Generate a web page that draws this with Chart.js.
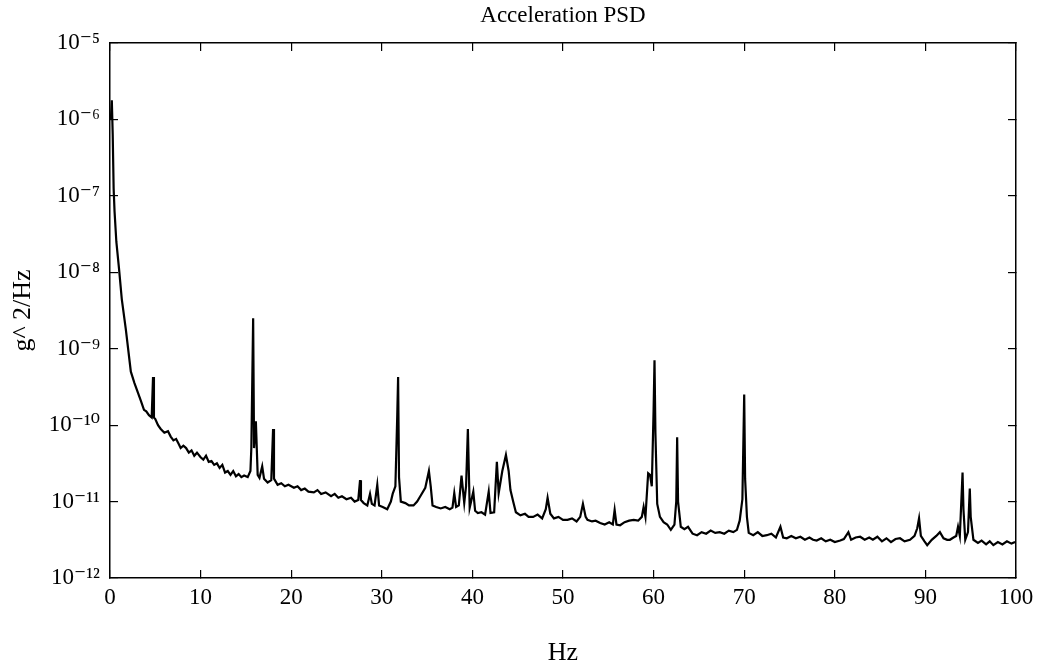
<!DOCTYPE html>
<html>
<head>
<meta charset="utf-8">
<script src="https://cdn.jsdelivr.net/npm/chart.js@4/dist/chart.umd.min.js"></script>
<style>
  html, body { margin: 0; padding: 0; background: #fff; }
  canvas { display: block; }
</style>
</head>
<body>
<canvas id="psd" width="1041" height="669"></canvas>
<script>
// Frequency axis (Hz) and PSD values as log10(g^2/Hz)
const freqHz = [
  0.1, 0.2, 0.3, 0.4, 0.5, 0.7, 1.0, 1.3, 1.75, 2.3,
  2.7, 3.1, 3.4, 3.75, 4.0, 4.3, 4.6, 4.75, 4.85, 5.0,
  5.3, 5.6, 6.0, 6.4, 6.7, 7.0, 7.3, 7.6, 7.8, 8.1,
  8.4, 8.7, 9.0, 9.3, 9.6, 10.0, 10.3, 10.6, 10.9, 11.2,
  11.5, 11.8, 12.1, 12.4, 12.7, 13.0, 13.3, 13.6, 13.9, 14.2,
  14.5, 14.8, 15.2, 15.5, 15.6, 15.8, 15.9, 16.1, 16.2, 16.3,
  16.5, 16.8, 17.0, 17.4, 17.8, 18.0, 18.1, 18.5, 18.9, 19.3,
  19.7, 20.3, 20.7, 21.1, 21.5, 21.9, 22.5, 22.9, 23.3, 23.8,
  24.4, 24.8, 25.2, 25.6, 26.1, 26.6, 27.0, 27.4, 27.6, 27.7,
  28.0, 28.4, 28.7, 28.9, 29.2, 29.5, 29.7, 30.1, 30.6, 31.0,
  31.2, 31.5, 31.7, 31.8, 31.9, 32.1, 32.6, 33.0, 33.5, 33.9,
  34.3, 34.8, 35.2, 35.4, 35.6, 36.0, 36.5, 37.0, 37.5, 37.8,
  38.0, 38.2, 38.5, 38.8, 39.1, 39.3, 39.5, 39.7, 40.1, 40.3,
  40.6, 41.0, 41.4, 41.8, 42.0, 42.4, 42.7, 42.9, 43.3, 43.7,
  44.0, 44.2, 44.5, 44.8, 45.3, 45.8, 46.2, 46.7, 47.2, 47.7,
  48.1, 48.3, 48.6, 49.0, 49.5, 50.0, 50.5, 51.0, 51.5, 51.9,
  52.2, 52.5, 52.7, 53.2, 53.6, 54.1, 54.6, 55.1, 55.5, 55.7,
  55.9, 56.3, 56.8, 57.3, 57.8, 58.3, 58.7, 58.9, 59.1, 59.4,
  59.6, 59.8, 60.0, 60.1, 60.2, 60.4, 60.7, 61.1, 61.5, 61.9,
  62.3, 62.5, 62.6, 62.7, 63.0, 63.4, 63.8, 64.3, 64.8, 65.3,
  65.8, 66.3, 66.8, 67.3, 67.8, 68.3, 68.8, 69.2, 69.5, 69.8,
  70.0, 70.1, 70.3, 70.5, 71.0, 71.5, 72.0, 72.5, 73.0, 73.5,
  74.0, 74.3, 74.7, 75.2, 75.7, 76.2, 76.7, 77.2, 77.6, 78.0,
  78.5, 79.0, 79.5, 80.0, 80.6, 81.0, 81.5, 81.8, 82.3, 82.8,
  83.3, 83.8, 84.2, 84.7, 85.2, 85.7, 86.2, 86.7, 87.2, 87.7,
  88.3, 88.8, 89.1, 89.3, 89.5, 89.9, 90.2, 90.7, 91.2, 91.6,
  92.0, 92.4, 92.7, 93.1, 93.4, 93.6, 93.8, 94.0, 94.1, 94.2,
  94.4, 94.7, 94.9, 95.0, 95.3, 95.8, 96.2, 96.7, 97.1, 97.5,
  98.0, 98.5, 99.0, 99.5, 99.9
];
const psdLog10 = [
  -6.0, -5.75, -6.2, -6.9, -7.2, -7.6, -7.96, -8.35, -8.75, -9.3,
  -9.45, -9.58, -9.68, -9.8, -9.82, -9.87, -9.9, -9.37, -9.9, -9.92,
  -10.0, -10.05, -10.1, -10.08, -10.15, -10.2, -10.18, -10.25, -10.3, -10.27,
  -10.3, -10.36, -10.33, -10.4, -10.36, -10.42, -10.45, -10.4, -10.48, -10.47,
  -10.52, -10.5, -10.56, -10.52, -10.62, -10.6, -10.65, -10.6, -10.67, -10.64,
  -10.68, -10.66, -10.68, -10.6, -10.3, -8.6, -10.3, -9.95, -10.3, -10.65,
  -10.69, -10.54, -10.7, -10.75, -10.72, -10.05, -10.7, -10.78, -10.76, -10.8,
  -10.78, -10.82, -10.8, -10.85, -10.83, -10.87, -10.88, -10.85, -10.9, -10.88,
  -10.93, -10.9, -10.95, -10.93, -10.97, -10.95, -11.0, -10.98, -10.72, -10.98,
  -11.02, -11.05, -10.9, -11.03, -11.05, -10.78, -11.05, -11.07, -11.1, -11.0,
  -10.9, -10.8, -9.9, -9.37, -10.68, -11.0, -11.02, -11.05, -11.05, -11.0,
  -10.92, -10.82, -10.6, -10.8, -11.05, -11.07, -11.09, -11.07, -11.1, -11.08,
  -10.89, -11.07, -11.05, -10.66, -11.02, -10.8, -10.05, -11.08, -10.87, -11.12,
  -11.15, -11.14, -11.17, -10.87, -11.15, -11.14, -10.48, -10.89, -10.6, -10.39,
  -10.6, -10.85, -11.0, -11.14, -11.18, -11.16, -11.2, -11.2, -11.17, -11.22,
  -11.1, -10.95, -11.16, -11.22, -11.2, -11.24, -11.24, -11.22, -11.26, -11.2,
  -11.03, -11.2, -11.24, -11.26, -11.25, -11.28, -11.3, -11.27, -11.3, -11.11,
  -11.3, -11.31, -11.27, -11.25, -11.24, -11.25, -11.2, -11.07, -11.2, -10.63,
  -10.65, -10.8, -9.8, -9.15, -10.1, -11.03, -11.2, -11.27, -11.3, -11.37,
  -11.3, -11.0, -10.16, -11.0, -11.33, -11.36, -11.33, -11.42, -11.44, -11.4,
  -11.42, -11.38, -11.41, -11.4, -11.42, -11.38, -11.4, -11.37, -11.25, -10.97,
  -9.6, -10.7, -11.2, -11.41, -11.44, -11.4, -11.45, -11.44, -11.42, -11.47,
  -11.33, -11.47, -11.48, -11.45, -11.48, -11.46, -11.5, -11.47, -11.5, -11.51,
  -11.48, -11.52, -11.5, -11.53, -11.51, -11.49, -11.4, -11.5, -11.47, -11.46,
  -11.5, -11.47, -11.5, -11.46, -11.52, -11.48, -11.53, -11.49, -11.48, -11.52,
  -11.5, -11.45, -11.35, -11.22, -11.45, -11.52, -11.57, -11.5, -11.45, -11.4,
  -11.48, -11.5, -11.5, -11.47, -11.45, -11.33, -11.45, -10.9, -10.62, -11.1,
  -11.5, -11.4, -10.83, -11.2, -11.5, -11.54, -11.51, -11.56, -11.52, -11.57,
  -11.53, -11.56, -11.52, -11.55, -11.53
];

// Axis ticks
const xTicks = [0, 10, 20, 30, 40, 50, 60, 70, 80, 90, 100];
const yTickValues = [1e-12, 1e-11, 1e-10, 1e-9, 1e-8, 1e-7, 1e-6, 1e-5];
const yTickLabels = ['10⁻¹²', '10⁻¹¹', '10⁻¹⁰', '10⁻⁹', '10⁻⁸', '10⁻⁷', '10⁻⁶', '10⁻⁵'];

const serif = '"Liberation Serif", "Times New Roman", "DejaVu Serif", serif';
const tickGrid = { drawOnChartArea: false, drawTicks: true, tickLength: -8, color: '#000', lineWidth: 1.2 };
const frame = { display: true, color: '#000', width: 1.5 };
const decadeTicks = s => { s.ticks = yTickValues.map(v => ({ value: v })); };
const tenTicks = s => { s.ticks = xTicks.map(v => ({ value: v })); };
// fixed box sizes so the plot frame lands where the scan has it
const fixX = h => s => { s.height = h; s.paddingLeft = 0; s.paddingRight = 0; };
const fixY = w => s => { s.width = w; s.paddingTop = 0; s.paddingBottom = 0; };

const points = freqHz.map((f, i) => ({ x: f, y: Math.pow(10, psdLog10[i]) }));

new Chart(document.getElementById('psd').getContext('2d'), {
  type: 'line',
  data: {
    datasets: [{
      label: 'PSD',
      data: points,
      borderColor: '#000',
      borderWidth: 2.2,
      pointRadius: 0,
      tension: 0,
      fill: false
    }]
  },
  options: {
    responsive: false,
    animation: false,
    devicePixelRatio: 1,
    layout: { autoPadding: false, padding: { top: 0, right: 25, bottom: 0, left: 0 } },
    plugins: {
      legend: { display: false },
      tooltip: { enabled: false },
      title: {
        display: true,
        fullSize: false,
        text: 'Acceleration PSD',
        color: '#000',
        font: { family: serif, size: 23, weight: 'normal' },
        padding: { top: 2, bottom: 13.4 }
      }
    },
    scales: {
      x: {
        type: 'linear', position: 'bottom', min: 0, max: 100,
        afterBuildTicks: tenTicks,
        afterFit: fixX(91),
        grid: tickGrid, border: frame,
        ticks: { color: '#000', padding: 14, maxRotation: 0, font: { family: serif, size: 23 } },
        title: { display: true, text: 'Hz', color: '#000', padding: { top: 0, bottom: 0 }, font: { family: serif, size: 26 } }
      },
      x2: {
        type: 'linear', position: 'top', min: 0, max: 100,
        afterBuildTicks: tenTicks,
        afterFit: fixX(0),
        grid: tickGrid, border: frame,
        ticks: { display: false }
      },
      y: {
        type: 'logarithmic', position: 'left', min: 1e-12, max: 1e-5,
        afterBuildTicks: decadeTicks,
        afterFit: fixY(110),
        grid: tickGrid, border: frame,
        ticks: {
          color: '#000', padding: 18, font: { family: serif, size: 23 },
          callback: (v, i) => yTickLabels[i]
        },
        title: { display: true, text: 'g^ 2/Hz', color: '#000', padding: { top: 8, bottom: 0 }, font: { family: serif, size: 26 } }
      },
      y2: {
        type: 'logarithmic', position: 'right', min: 1e-12, max: 1e-5,
        afterBuildTicks: decadeTicks,
        afterFit: fixY(0),
        grid: tickGrid, border: frame,
        ticks: { display: false }
      }
    }
  }
});
</script>
</body>
</html>
